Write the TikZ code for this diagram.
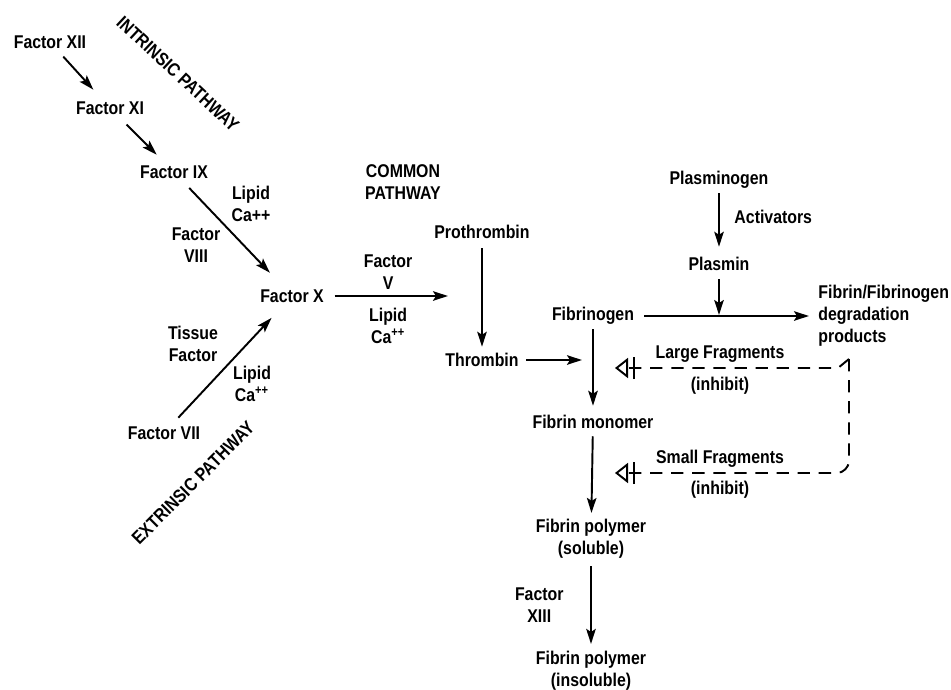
\documentclass[tikz,border=0pt]{standalone}
\usepackage{fontspec}
\setmainfont{Liberation Sans}[FakeStretch=0.86]
\usetikzlibrary{arrows.meta}

\begin{document}
\begin{tikzpicture}[->, >={Stealth[length=3mm,width=1.9mm,inset=0.6mm]},
    x=0.02cm, y=-0.02cm, line width=1.1pt,
    every node/.style={font=\bfseries\fontsize{10.5}{12.5}\selectfont, inner sep=2pt},
    inhibit/.style={dash pattern=on 7pt off 5pt,
        -{Bar[width=4.4mm,sep=1mm]Triangle[open,length=2.6mm,width=4mm]}}]

    \useasboundingbox (0,0) rectangle (951,690);

    \node (xii) at (50, 42) {Factor XII};
    \node (xi) at (110, 108) {Factor XI};
    \node (ix) at (174, 172) {Factor IX};
    \node (x) at (292, 296) {Factor X};
    \node (vii) at (164, 433) {Factor VII};
    \node[rotate=-43] (intr) at (178, 74) {INTRINSIC PATHWAY};
    \node[rotate=45] (extr) at (193, 483) {EXTRINSIC PATHWAY};
    \node[align=center] (lipa) at (251, 204) {Lipid\\Ca++};
    \node[align=center] (fviii) at (196, 245) {Factor\\VIII};
    \node[align=center] (tf) at (193, 344) {Tissue\\Factor};
    \node[align=center] (lipb) at (252, 384) {Lipid\\Ca\textsuperscript{++}};
    \node[align=center] (common) at (403, 182) {COMMON\\PATHWAY};
    \node (prothr) at (482, 232) {Prothrombin};
    \node (thr) at (482, 360) {Thrombin};
    \node (fbg) at (593, 316) {Fibrinogen};
    \node (mono) at (593, 422) {Fibrin monomer};
    \node[align=center] (sol) at (591, 539) {Fibrin polymer\\(soluble)};
    \node[align=center] (insol) at (591, 671) {Fibrin polymer\\(insoluble)};
    \node (plgn) at (719, 180) {Plasminogen};
    \node (plsm) at (719, 264) {Plasmin};
    \node[align=left, anchor=west] (fdp) at (814, 316) {Fibrin/Fibrinogen\\degradation\\products};
    \node (lg) at (720, 354) {Large Fragments};
    \node (lginh) at (720, 386) {(inhibit)};
    \node (sm) at (720, 459) {Small Fragments};
    \node (sminh) at (720, 490) {(inhibit)};

    \coordinate (pconv) at (448, 296);
    \coordinate (fconv) at (582, 360);
    \coordinate (cleave) at (719, 315);
    \coordinate (fdptail) at (849, 359);
    \coordinate (lgend) at (615, 368);
    \coordinate (smend) at (615, 473);

    \draw[shorten <=0.1cm, shorten >=0.2cm] (xii) -- (xi);
    \draw[shorten <=0.16cm, shorten >=0.18cm] (xi) -- (ix);
    \draw[shorten <=0.14cm, shorten >=0.34cm] (ix) -- (x);
    \draw[shorten <=0.12cm, shorten >=0.3cm] (vii) -- (x);
    \draw[shorten <=0.13cm] (x) -- (pconv)
        node[midway, above=0.04cm, align=center] (fv) {Factor\\V}
        node[midway, below=0.16cm, align=center] (lipc) {Lipid\\Ca\textsuperscript{++}};
    \draw[shorten <=0.1cm, shorten >=0.04cm] (prothr) -- (thr);
    \draw[shorten <=0.06cm] (thr) -- (fconv);
    \draw[shorten >=0.1cm] (fbg) -- (mono);
    \draw[shorten <=0.06cm, shorten >=0.04cm] (mono) -- (sol);
    \draw[shorten <=0.06cm, shorten >=0.06cm] (sol) -- (insol)
        node[midway, left=0.46cm, align=center] (fxiii) {Factor\\XIII};
    \draw[shorten >=0.12cm] (plgn) -- (plsm)
        node[pos=0.4, right=0.22cm] (act) {Activators};
    \draw[shorten <=0.08cm] (plsm) -- (cleave);
    \draw[shorten <=0.12cm, shorten >=0.1cm] (fbg) -- (fdp);

    \draw[inhibit] (fdptail) -- (838, 368) -- (lgend);
    \draw[inhibit, rounded corners=0.25cm] (fdptail) |- (smend);

\end{tikzpicture}
\end{document}
